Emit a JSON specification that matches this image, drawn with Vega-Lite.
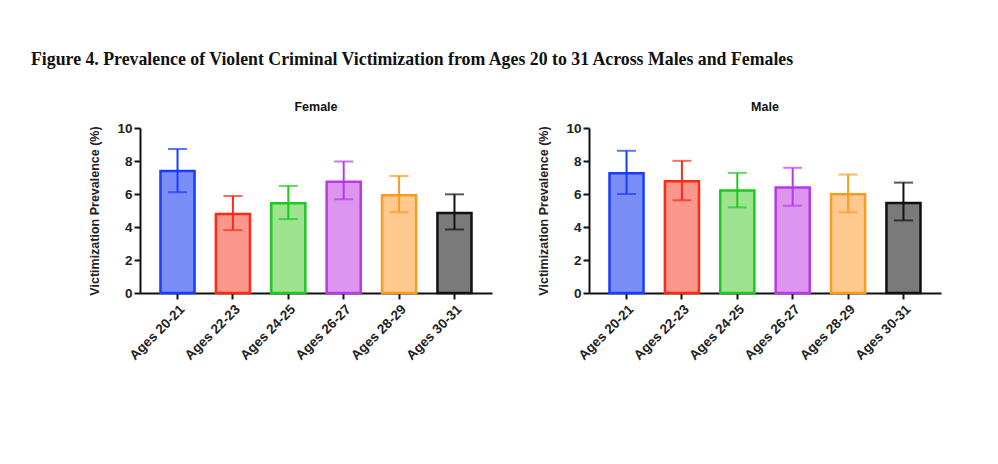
{
  "$schema": "https://vega.github.io/schema/vega-lite/v6.json",
  "background": "white",
  "padding": {"left": 30, "top": 50, "right": 5, "bottom": 5},
  "title": {
    "text": "Figure 4. Prevalence of Violent Criminal Victimization from Ages 20 to 31 Across Males and Females",
    "font": "Liberation Serif",
    "fontSize": 17.8,
    "fontWeight": "bold",
    "color": "#111111",
    "anchor": "start",
    "dx": -58,
    "offset": 32
  },
  "data": {
    "values": [
      {"sex": "Female", "age": "Ages 20-21", "value": 7.40, "lo": 6.11, "hi": 8.72},
      {"sex": "Female", "age": "Ages 22-23", "value": 4.79, "lo": 3.81, "hi": 5.88},
      {"sex": "Female", "age": "Ages 24-25", "value": 5.44, "lo": 4.48, "hi": 6.49},
      {"sex": "Female", "age": "Ages 26-27", "value": 6.75, "lo": 5.68, "hi": 7.97},
      {"sex": "Female", "age": "Ages 28-29", "value": 5.92, "lo": 4.89, "hi": 7.09},
      {"sex": "Female", "age": "Ages 30-31", "value": 4.85, "lo": 3.85, "hi": 5.98},
      {"sex": "Male", "age": "Ages 20-21", "value": 7.26, "lo": 6.00, "hi": 8.62},
      {"sex": "Male", "age": "Ages 22-23", "value": 6.77, "lo": 5.62, "hi": 8.01},
      {"sex": "Male", "age": "Ages 24-25", "value": 6.21, "lo": 5.19, "hi": 7.28},
      {"sex": "Male", "age": "Ages 26-27", "value": 6.39, "lo": 5.29, "hi": 7.59},
      {"sex": "Male", "age": "Ages 28-29", "value": 5.98, "lo": 4.89, "hi": 7.18},
      {"sex": "Male", "age": "Ages 30-31", "value": 5.46, "lo": 4.40, "hi": 6.69}
    ]
  },
  "facet": {
    "column": {
      "field": "sex",
      "type": "nominal",
      "title": null,
      "header": {
        "labelFont": "Liberation Sans",
        "labelFontSize": 12.5,
        "labelFontWeight": "bold",
        "labelColor": "#111111",
        "labelPadding": 8
      }
    }
  },
  "spacing": 45,
  "resolve": {"axis": {"x": "independent", "y": "independent"}},
  "spec": {
    "width": 352,
    "height": 165,
    "encoding": {
      "x": {
        "field": "age",
        "type": "nominal",
        "scale": {"paddingInner": 0.385, "paddingOuter": 0.37},
        "axis": {
          "title": null,
          "labelAngle": -45,
          "labelFont": "Liberation Sans",
          "labelFontSize": 13.5,
          "labelFontWeight": "bold",
          "labelColor": "#222222",
          "labelPadding": 3,
          "labelOverlap": false,
          "domainColor": "#111111",
          "domainWidth": 2,
          "tickColor": "#111111",
          "tickWidth": 2,
          "tickSize": 6
        }
      }
    },
    "layer": [
      {
        "mark": {"type": "bar", "strokeWidth": 2.5, "fillOpacity": 1},
        "encoding": {
          "y": {
            "field": "value",
            "type": "quantitative",
            "scale": {"domain": [0, 10], "nice": false},
            "axis": {"title": "Victimization Prevalence (%)", "values": [0, 2, 4, 6, 8, 10]}
          },
          "fill": {
            "field": "age",
            "type": "nominal",
            "legend": null,
            "scale": {
              "domain": ["Ages 20-21", "Ages 22-23", "Ages 24-25", "Ages 26-27", "Ages 28-29", "Ages 30-31"],
              "range": ["#7b8ef8", "#fa978c", "#9de390", "#dd96f0", "#ffc98f", "#7a7a7a"]
            }
          },
          "stroke": {
            "field": "age",
            "type": "nominal",
            "legend": null,
            "scale": {
              "domain": ["Ages 20-21", "Ages 22-23", "Ages 24-25", "Ages 26-27", "Ages 28-29", "Ages 30-31"],
              "range": ["#1a3cff", "#ff2a14", "#1ec81e", "#b63ae8", "#ff9a1f", "#111111"]
            }
          }
        }
      },
      {
        "mark": {"type": "rule", "strokeWidth": 2},
        "encoding": {
          "y": {
            "field": "lo",
            "type": "quantitative",
            "axis": {"title": "Victimization Prevalence (%)", "values": [0, 2, 4, 6, 8, 10]}
          },
          "y2": {"field": "hi"},
          "stroke": {"field": "age", "type": "nominal", "legend": null}
        }
      },
      {
        "mark": {"type": "tick", "thickness": 2, "size": 19},
        "encoding": {
          "y": {
            "field": "lo",
            "type": "quantitative",
            "axis": {"title": "Victimization Prevalence (%)", "values": [0, 2, 4, 6, 8, 10]}
          },
          "color": {
            "field": "age",
            "type": "nominal",
            "legend": null,
            "scale": {
              "domain": ["Ages 20-21", "Ages 22-23", "Ages 24-25", "Ages 26-27", "Ages 28-29", "Ages 30-31"],
              "range": ["#1a3cff", "#ff2a14", "#1ec81e", "#b63ae8", "#ff9a1f", "#111111"]
            }
          }
        }
      },
      {
        "mark": {"type": "tick", "thickness": 2, "size": 19},
        "encoding": {
          "y": {
            "field": "hi",
            "type": "quantitative",
            "axis": {"title": "Victimization Prevalence (%)", "values": [0, 2, 4, 6, 8, 10]}
          },
          "color": {"field": "age", "type": "nominal", "legend": null}
        }
      }
    ]
  },
  "config": {
    "view": {"stroke": null},
    "axisY": {
      "labelOverlap": false,
      "grid": false,
      "labelFont": "Liberation Sans",
      "labelFontSize": 13.5,
      "labelFontWeight": "bold",
      "labelColor": "#222222",
      "labelPadding": 2,
      "titleFont": "Liberation Sans",
      "titleFontSize": 12.5,
      "titleFontWeight": "bold",
      "titleColor": "#222222",
      "titlePadding": 15,
      "domainColor": "#111111",
      "domainWidth": 2,
      "tickColor": "#111111",
      "tickWidth": 2,
      "tickSize": 6
    }
  }
}
